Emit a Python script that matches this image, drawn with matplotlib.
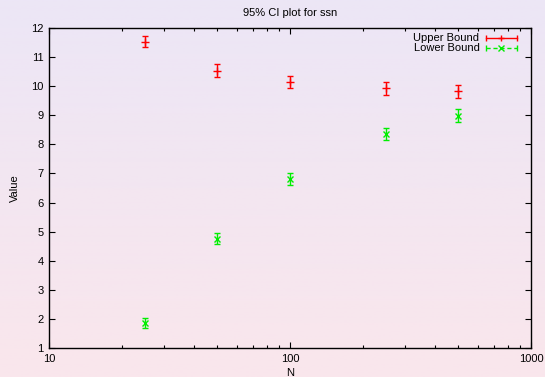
import numpy as np
import matplotlib
matplotlib.use("Agg")
import matplotlib.pyplot as plt
from matplotlib.ticker import LogLocator, FixedLocator, NullFormatter, FixedFormatter

plt.rcParams['font.family'] = ['Liberation Sans', 'DejaVu Sans']

# Sample sizes and confidence-interval bounds
n_values = [25, 50, 100, 250, 500]
upper_bound = [11.52, 10.53, 10.14, 9.93, 9.83]
upper_err = [0.19, 0.22, 0.21, 0.22, 0.22]
lower_bound = [1.87, 4.76, 6.80, 8.36, 8.98]
lower_err = [0.17, 0.20, 0.21, 0.20, 0.22]

x_ticks = [10, 100, 1000]
x_tick_labels = ["10", "100", "1000"]
y_ticks = list(range(1, 13))

fig = plt.figure(figsize=(5.45, 3.77), dpi=100)

# Soft vertical gradient backdrop
bg = fig.add_axes([0, 0, 1, 1], zorder=-10)
top = np.array([236, 230, 246]) / 255.0
bot = np.array([250, 230, 236]) / 255.0
t = np.linspace(0, 1, 256)[:, None]
grad = top[None, :] * (1 - t) + bot[None, :] * t
bg.imshow(grad[:, None, :], aspect='auto', extent=[0, 1, 0, 1])
bg.axis('off')

ax = fig.add_axes([49 / 545, 1 - 348 / 377, (531 - 49) / 545, (348 - 28) / 377])
ax.patch.set_alpha(0)

red = '#ff0000'
green = '#00ee00'

ax.errorbar(n_values, upper_bound, yerr=upper_err, fmt='+', color=red,
            ms=6, mew=1.0, elinewidth=1.0, capsize=2.5, capthick=1.0)
ax.errorbar(n_values, lower_bound, yerr=lower_err, fmt='x', color=green,
            ms=4.5, mew=1.0, elinewidth=1.0, capsize=2.5, capthick=1.0)

ax.set_xscale('log')
ax.set_xlim(10, 1000)
ax.set_ylim(1, 12)
ax.xaxis.set_major_locator(FixedLocator(x_ticks))
ax.xaxis.set_major_formatter(FixedFormatter(x_tick_labels))
ax.xaxis.set_minor_locator(LogLocator(base=10, subs=np.arange(2, 10)))
ax.xaxis.set_minor_formatter(NullFormatter())
ax.set_yticks(y_ticks)

ax.tick_params(which='both', direction='in', top=True, right=True,
               labelsize=8, width=0.8, pad=4)
ax.tick_params(which='major', length=4)
ax.tick_params(which='minor', length=2.5)
for s in ax.spines.values():
    s.set_linewidth(1.0)
    s.set_color('black')

ax.set_title("95% CI plot for ssn", fontsize=8, pad=9)
ax.set_xlabel("N", fontsize=8, labelpad=3)
ax.set_ylabel("Value", fontsize=8, labelpad=8)

# Key in the upper right corner
def key_entry(y, label, color, ls, marker):
    x0, x1 = 0.907, 0.97
    ax.plot([x0, x1], [y, y], transform=ax.transAxes, color=color, ls=ls,
            lw=1.0, clip_on=False, dashes=(3, 2) if ls == '--' else (None, None))
    ax.plot([x0, x1], [y, y], transform=ax.transAxes, color=color, ls='none',
            marker='|', ms=5, mew=1.0, clip_on=False)
    ax.plot([(x0 + x1) / 2], [y], transform=ax.transAxes, color=color,
            marker=marker, ms=5 if marker == '+' else 4, mew=1.0, clip_on=False)
    ax.text(0.893, y, label, transform=ax.transAxes, ha='right', va='center',
            fontsize=8)

key_entry(0.970, "Upper Bound", red, '-', '+')
key_entry(0.938, "Lower Bound", green, '--', 'x')

fig.savefig("out.png", dpi=100)
